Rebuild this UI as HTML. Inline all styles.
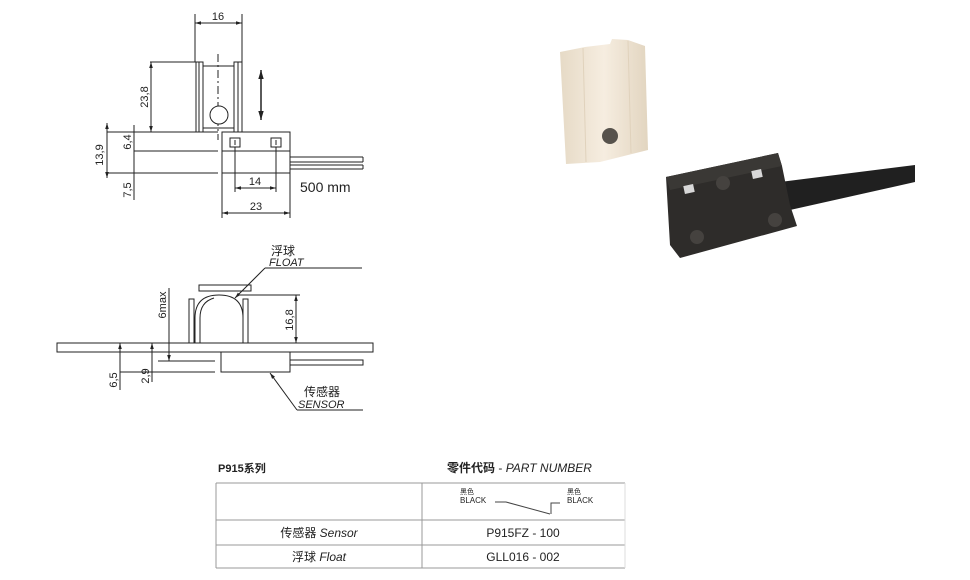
<!DOCTYPE html>
<html><head><meta charset="utf-8"><style>
html,body{margin:0;padding:0;background:#fff;}
svg text{font-family:"Liberation Sans","Noto Sans CJK SC",sans-serif;}
</style></head><body>
<svg width="970" height="575" viewBox="0 0 970 575" xmlns="http://www.w3.org/2000/svg">
<defs>
<marker id="a" viewBox="0 0 10 10" refX="10" refY="5" markerWidth="6" markerHeight="6" orient="auto-start-reverse"><path d="M0,2 L10,5 L0,8z" fill="#222"/></marker>
<linearGradient id="cr" x1="0" x2="1"><stop offset="0" stop-color="#e6dac6"/><stop offset=".5" stop-color="#f6ede0"/><stop offset="1" stop-color="#e2d5c0"/></linearGradient>
</defs>
<g stroke="#222" stroke-width="1" fill="none">
<line x1="195" y1="14" x2="195" y2="62"/><line x1="242" y1="14" x2="242" y2="62"/>
<line x1="195" y1="23" x2="242" y2="23" marker-start="url(#a)" marker-end="url(#a)"/>
<rect x="196" y="62" width="7" height="70"/><line x1="199" y1="62" x2="199" y2="132"/>
<rect x="234" y="62" width="8" height="70"/><line x1="238" y1="62" x2="238" y2="132"/>
<rect x="203" y="66" width="31" height="62"/>
<line x1="218" y1="54" x2="218" y2="140" stroke-dasharray="8,3,2,3"/>
<circle cx="219" cy="115" r="9" fill="#fff"/>
<line x1="150" y1="62" x2="196" y2="62"/>
<line x1="151" y1="62" x2="151" y2="132" marker-start="url(#a)" marker-end="url(#a)"/>
<line x1="261" y1="70" x2="261" y2="120" stroke-width="1.5" marker-start="url(#a)" marker-end="url(#a)"/>
<rect x="222" y="132" width="68" height="41"/>
<line x1="222" y1="151" x2="290" y2="151"/>
<rect x="230" y="138" width="10" height="9"/><rect x="271" y="138" width="10" height="9"/>
<line x1="235" y1="140" x2="235" y2="145"/><line x1="276" y1="140" x2="276" y2="145"/>
<path d="M290 157 H363 M290 162 H363 M290 165 H363 M290 169 H363 M363 157 V162 M363 165 V169"/>
<line x1="107" y1="132" x2="218" y2="132"/><line x1="134" y1="151" x2="218" y2="151"/><line x1="107" y1="173" x2="218" y2="173"/>
<line x1="107" y1="123" x2="107" y2="178" marker-start="url(#a)" marker-end="url(#a)"/>
<line x1="134" y1="125" x2="134" y2="200"/>
<line x1="235" y1="147" x2="235" y2="192"/><line x1="276" y1="147" x2="276" y2="192"/>
<line x1="235" y1="188" x2="276" y2="188" marker-start="url(#a)" marker-end="url(#a)"/>
<line x1="222" y1="173" x2="222" y2="218"/><line x1="290" y1="173" x2="290" y2="218"/>
<line x1="222" y1="213" x2="290" y2="213" marker-start="url(#a)" marker-end="url(#a)"/>
<rect x="57" y="343" width="316" height="9"/>
<rect x="221" y="352" width="69" height="20"/>
<line x1="158" y1="361" x2="215" y2="361"/><line x1="158" y1="372" x2="215" y2="372"/>
<path d="M290 360 H363 V365 H290"/>
<rect x="189" y="299" width="5" height="44"/><rect x="243" y="299" width="5" height="44"/>
<path d="M195 343 V318 Q195 295 219 295 Q243 295 243 318 V343"/>
<path d="M200 343 V318 Q200 302 214 298"/>
<rect x="199" y="285" width="52" height="6"/>
<line x1="240" y1="295" x2="300" y2="295"/>
<line x1="296" y1="295" x2="296" y2="343" marker-start="url(#a)" marker-end="url(#a)"/>
<line x1="169" y1="288" x2="169" y2="361" marker-end="url(#a)"/>
<line x1="152" y1="343" x2="152" y2="382" marker-start="url(#a)"/>
<line x1="120" y1="343" x2="120" y2="390" marker-start="url(#a)"/>
<line x1="120" y1="372" x2="158" y2="372"/>
<line x1="265" y1="268" x2="362" y2="268"/><line x1="265" y1="268" x2="235" y2="298" marker-end="url(#a)"/>
<line x1="297" y1="410" x2="363" y2="410"/><line x1="297" y1="410" x2="270" y2="373" marker-end="url(#a)"/>
<g stroke="#999"><line x1="216" y1="483" x2="625" y2="483"/><line x1="216" y1="520" x2="625" y2="520"/><line x1="216" y1="545" x2="625" y2="545"/><line x1="216" y1="568" x2="625" y2="568"/>
<line x1="216" y1="483" x2="216" y2="568"/><line x1="422" y1="483" x2="422" y2="568"/><line x1="625" y1="483" x2="625" y2="568" stroke="#ddd"/></g>
<path d="M495 502 H506 L550 514 M551 514 V503 H560" stroke="#444"/>
</g>
<g fill="#222" font-size="11">
<text x="218" y="20" text-anchor="middle">16</text>
<text transform="translate(148,97) rotate(-90)" text-anchor="middle">23,8</text>
<text transform="translate(103,155) rotate(-90)" text-anchor="middle">13,9</text>
<text transform="translate(131,142) rotate(-90)" text-anchor="middle">6,4</text>
<text transform="translate(131,190) rotate(-90)" text-anchor="middle">7,5</text>
<text x="255" y="185" text-anchor="middle">14</text>
<text x="256" y="210" text-anchor="middle">23</text>
<text x="300" y="192" font-size="14">500 mm</text>
<text x="271" y="255" font-size="12">浮球</text>
<text x="269" y="266" font-style="italic">FLOAT</text>
<text transform="translate(166,305) rotate(-90)" text-anchor="middle">6max</text>
<text transform="translate(293,320) rotate(-90)" text-anchor="middle">16,8</text>
<text transform="translate(149,376) rotate(-90)" text-anchor="middle">2,9</text>
<text transform="translate(117,380) rotate(-90)" text-anchor="middle">6,5</text>
<text x="304" y="396" font-size="12">传感器</text>
<text x="298" y="408" font-style="italic">SENSOR</text>
<text x="218" y="472" font-size="11" font-weight="bold">P915系列</text>
<text x="447" y="472" font-size="12"><tspan font-weight="bold">零件代码</tspan> - <tspan font-style="italic">PART NUMBER</tspan></text>
<text x="460" y="494" font-size="7">黑色</text><text x="460" y="503" font-size="8">BLACK</text>
<text x="567" y="494" font-size="7">黑色</text><text x="567" y="503" font-size="8">BLACK</text>
<text x="319" y="537" font-size="12" text-anchor="middle">传感器 <tspan font-style="italic">Sensor</tspan></text>
<text x="319" y="561" font-size="12" text-anchor="middle">浮球 <tspan font-style="italic">Float</tspan></text>
<text x="523" y="537" font-size="12" text-anchor="middle">P915FZ - 100</text>
<text x="523" y="561" font-size="12" text-anchor="middle">GLL016 - 002</text>
</g>
<path d="M560 52 L585 47 L610 44 L612 39 L628 40 L645 46 L648 150 L600 162 L566 164 Z" fill="url(#cr)"/>
<path d="M583 48 L586 162 M628 41 L631 153" stroke="#e0d2bc" fill="none"/>
<circle cx="610" cy="136" r="8" fill="#57524c"/>
<path d="M780 182 L915 165 L915 182 L790 210 Z" fill="#202020"/>
<path d="M666 177 L778 153 L782 166 L790 205 L797 226 L680 258 L670 245 Z" fill="#2e2c2a"/>
<path d="M666 177 L778 153 L782 166 L670 190 Z" fill="#3a3835"/>
<rect x="684" y="185" width="10" height="8" fill="#d8d8d8" transform="rotate(-12 689 189)"/>
<rect x="752" y="170" width="10" height="8" fill="#d8d8d8" transform="rotate(-12 757 174)"/>
<circle cx="723" cy="183" r="7" fill="#45423f"/>
<circle cx="697" cy="237" r="7" fill="#45423f"/><circle cx="775" cy="220" r="7" fill="#45423f"/>
</svg>
</body></html>
